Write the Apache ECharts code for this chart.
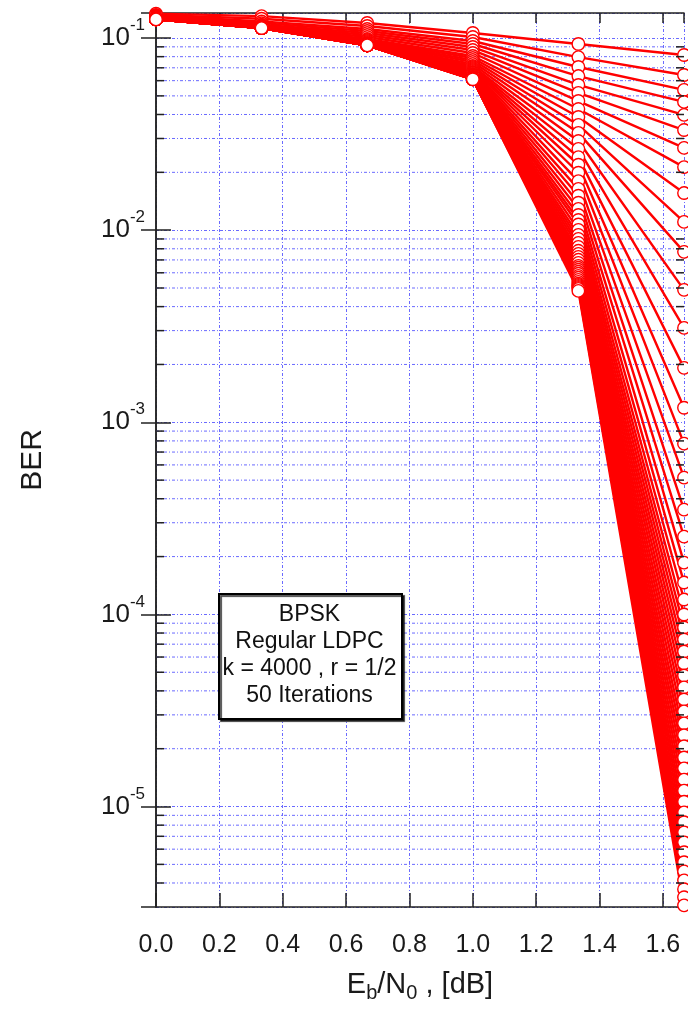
<!DOCTYPE html>
<html><head><meta charset="utf-8">
<script src="https://cdn.jsdelivr.net/npm/echarts@6/dist/echarts.min.js"></script>
<style>html,body{margin:0;padding:0;background:#fff}#c{width:688px;height:1009px}</style>
</head><body><div id="c"></div>
<script>
// Eb/N0 points [dB]
const ebn0 = [0, 0.3333, 0.6667, 1.0, 1.3333, 1.6667];
// BER per iteration (1..50) at each Eb/N0 point
const ber_0_00 = [0.134,0.132,0.131,0.130,0.129,0.128,0.1275,0.127,0.1266,0.1263,0.1261,0.1259,0.1257,0.1255,0.1254,0.1253,0.1252,0.1252,0.1251,0.1251,
  0.125,0.125,0.125,0.125,0.125,0.125,0.125,0.125,0.125,0.125,0.125,0.125,0.125,0.125,0.125,0.125,0.125,0.125,0.125,0.125,
  0.125,0.125,0.125,0.125,0.125,0.125,0.125,0.125,0.125,0.125];
const ber_0_33 = [0.130,0.126,0.122,0.1195,0.1175,0.1162,0.1152,0.1145,0.1140,0.1137,0.1134,0.1132,0.1131,0.1130,0.1129,0.1129,0.1128,0.1128,0.1128,0.1127,
  0.1127,0.1127,0.1127,0.1127,0.1127,0.1127,0.1127,0.1127,0.1127,0.1127,0.1127,0.1127,0.1127,0.1127,0.1127,0.1127,0.1127,0.1127,0.1127,0.1127,
  0.1127,0.1127,0.1127,0.1127,0.1127,0.1127,0.1127,0.1127,0.1127,0.1127];
const ber_0_67 = [0.1197,0.1155,0.1114,0.1088,0.1062,0.1037,0.1012,0.0988,0.0976,0.0965,0.0953,0.0942,0.0936,0.0931,0.0928,0.0924,0.0920,0.0919,0.0918,0.0917,
  0.0916,0.0916,0.0916,0.0916,0.0916,0.0916,0.0916,0.0916,0.0916,0.0916,0.0916,0.0916,0.0916,0.0916,0.0916,0.0916,0.0916,0.0916,0.0916,0.0916,
  0.0916,0.0916,0.0916,0.0916,0.0916,0.0916,0.0916,0.0916,0.0916,0.0916];
const ber_1_00 = [0.1062,0.1012,0.0965,0.0931,0.0898,0.0866,0.0836,0.0806,0.0787,0.0768,
  0.0750,0.0732,0.0715,0.0707,0.0698,0.0690,0.0682,0.0674,0.0667,0.0662,
  0.0656,0.0651,0.0647,0.0643,0.0640,0.0637,0.0634,0.0632,0.0630,0.0628,
  0.0625,0.0624,0.0622,0.0621,0.0619,0.0618,0.0617,0.0616,0.0615,0.0615,
  0.0614,0.0613,0.0612,0.0611,0.0611,0.0610,0.0610,0.0610,0.0610,0.0610];
const ber_1_33 = [0.0931,0.0796,0.0707,0.0634,0.0570,0.0518,0.0470,0.0427,0.0388,0.0353,
  0.0321,0.0291,0.0265,0.0240,0.0219,0.0199,0.0180,0.0164,0.0151,0.0139,
  0.0129,0.0120,0.0113,0.0107,0.01004,0.00945,0.00901,0.00859,0.00819,0.00781,
  0.00753,0.00726,0.00701,0.00676,0.00652,0.00637,0.00622,0.00607,0.00593,0.00578,
  0.00565,0.00551,0.00538,0.00526,0.00519,0.00513,0.00507,0.00501,0.00495,0.00483];
const ber_1_67 = [0.0816,0.0642,0.0537,0.0465,0.0398,0.0332,0.0268,0.0213,0.0156,0.01104,
  0.00771,0.00489,0.00310,0.00192,0.00119,0.000774,0.000515,0.000351,0.000254,0.000186,
  0.0001465,0.0001195,0.0000999,0.0000855,0.0000741,0.0000641,0.0000556,0.0000481,0.0000417,0.0000361,
  0.0000313,0.0000271,0.0000235,0.0000206,0.0000180,0.0000158,0.0000138,0.0000121,0.0000106,0.00000933,
  0.00000828,0.00000734,0.00000651,0.00000578,0.00000513,0.00000460,0.00000413,0.00000371,0.00000337,0.00000306];
const columns = [ber_0_00, ber_0_33, ber_0_67, ber_1_00, ber_1_33, ber_1_67];

const xRange = [0, 1.6667];
const yRange = [3e-6, 0.135];
const minorMantissas = [2,3,4,5,6,7,8,9];
const minorDecades = [-6,-5,-4,-3,-2];
const boxLines = ['BPSK','Regular LDPC','k = 4000 , r = 1/2','50 Iterations'];

const minorVals = [];
minorDecades.forEach(d => minorMantissas.forEach(m => {
  const v = m * Math.pow(10, d);
  if (v > yRange[0] * 1.01 && v < yRange[1]) minorVals.push([0, v]);
}));

const FONT = 'Liberation Sans, Arial, sans-serif';
const NARROW = 'Liberation Sans Narrow, Arial Narrow, Liberation Sans, sans-serif';
const GRID_COLOR = '#6a6aff';
const AX = '#222';
const TXT = '#1a1a1a';

const series = [];
// minor grid lines
series.push({
  type: 'custom', coordinateSystem: 'cartesian2d', xAxisIndex: 0, yAxisIndex: 0, z: 1, silent: true,
  encode: {x: 0, y: 1}, data: minorVals,
  renderItem: (params, api) => {
    const v = api.value(1);
    const a = api.coord([xRange[0], v]), b = api.coord([xRange[1], v]);
    return {type: 'line', shape: {x1: a[0], y1: a[1], x2: b[0], y2: b[1]},
      style: {stroke: GRID_COLOR, lineWidth: 1, lineDash: [3, 2, 1, 2]}};
  }
});
for (let i = 0; i < 50; i++) {
  series.push({
    type: 'line', name: 'iter ' + (i + 1), xAxisIndex: 0, yAxisIndex: 0, z: 2,
    clip: false, symbol: 'circle', symbolSize: 12.5, showAllSymbol: true,
    lineStyle: {color: '#ff0000', width: 2.4},
    itemStyle: {color: '#ffffff', borderColor: '#ff0000', borderWidth: 1.4},
    data: ebn0.map((x, j) => [x, columns[j][i]])
  });
}
// minor ticks (left & right)
series.push({
  type: 'custom', coordinateSystem: 'cartesian2d', xAxisIndex: 0, yAxisIndex: 0, z: 10, silent: true,
  encode: {x: 0, y: 1}, data: minorVals,
  renderItem: (params, api) => {
    const v = api.value(1);
    const a = api.coord([xRange[0], v]), b = api.coord([xRange[1], v]);
    return {type: 'group', children: [
      {type: 'line', shape: {x1: a[0], y1: a[1], x2: a[0] + 8, y2: a[1]}, style: {stroke: AX, lineWidth: 1.5}},
      {type: 'line', shape: {x1: b[0] - 8, y1: b[1], x2: b[0], y2: b[1]}, style: {stroke: AX, lineWidth: 1.5}}
    ]};
  }
});

const chart = echarts.init(document.getElementById('c'), null, {renderer: 'canvas'});
chart.setOption({
  animation: false,
  backgroundColor: '#ffffff',
  grid: {left: 156, right: 4, top: 13, bottom: 102, containLabel: false},
  xAxis: [{
    type: 'value', min: xRange[0], max: xRange[1], interval: 0.2, position: 'bottom',
    name: '{n|E}{s|b}{n|/N}{s|0}{n| , [dB]}', nameLocation: 'middle', nameGap: 63,
    nameTextStyle: {rich: {
      n: {fontSize: 29, fontFamily: FONT, color: TXT, lineHeight: 29, verticalAlign: 'top'},
      s: {fontSize: 20, fontFamily: FONT, color: TXT, lineHeight: 20, verticalAlign: 'top', padding: [13, 0, 0, 0]}
    }},
    axisLine: {show: true, lineStyle: {color: AX, width: 1.5}},
    axisTick: {show: true, inside: true, length: 14, lineStyle: {color: AX, width: 1.5}},
    axisLabel: {show: true, margin: 26, fontSize: 25, fontFamily: NARROW, color: TXT,
      showMaxLabel: false, formatter: v => v.toFixed(1)},
    splitLine: {show: true, lineStyle: {color: GRID_COLOR, width: 1, type: [3, 2, 1, 2]}}
  }, {
    type: 'value', min: xRange[0], max: xRange[1], interval: 0.2, position: 'top', gridIndex: 0,
    axisLine: {show: true, lineStyle: {color: AX, width: 1.5}},
    axisTick: {show: true, inside: true, length: 10, lineStyle: {color: AX, width: 1.5}},
    axisLabel: {show: false}, splitLine: {show: false}
  }],
  yAxis: [{
    type: 'log', logBase: 10, min: yRange[0], max: yRange[1], position: 'left',
    name: 'BER', nameLocation: 'middle', nameGap: 108,
    nameTextStyle: {fontSize: 30, fontFamily: NARROW, color: TXT},
    axisLine: {show: true, lineStyle: {color: AX, width: 1.5}},
    axisTick: {show: true, inside: true, length: 15, lineStyle: {color: AX, width: 1.5}},
    axisLabel: {show: true, margin: 11, showMinLabel: false, showMaxLabel: false,
      formatter: v => '{b|10}{e|' + Math.round(Math.log10(v)) + '}',
      rich: {
        b: {fontSize: 26, fontFamily: NARROW, color: TXT, lineHeight: 26, verticalAlign: 'bottom'},
        e: {fontSize: 17, fontFamily: NARROW, color: TXT, lineHeight: 17, verticalAlign: 'bottom', padding: [0, 0, 17, 0]}
      }},
    splitLine: {show: true, lineStyle: {color: GRID_COLOR, width: 1, type: [3, 2, 1, 2]}}
  }, {
    type: 'log', logBase: 10, min: yRange[0], max: yRange[1], position: 'right', gridIndex: 0,
    axisLine: {show: true, lineStyle: {color: AX, width: 1.5}},
    axisTick: {show: true, inside: true, length: 15, lineStyle: {color: AX, width: 1.5}},
    axisLabel: {show: false}, splitLine: {show: false}
  }],
  graphic: [{
    type: 'rect', left: 218, top: 593, z: 100,
    shape: {width: 183, height: 125},
    style: {fill: '#ffffff', stroke: '#000', lineWidth: 2, shadowColor: 'rgba(0,0,0,0.7)', shadowOffsetX: 2, shadowOffsetY: 2, shadowBlur: 1}
  }, {
    type: 'text', z: 101, x: 309.5, y: 655.5,
    style: {text: boxLines.join('\n'), fontSize: 23, fontFamily: FONT, fill: '#111', lineHeight: 27,
      align: 'center', verticalAlign: 'middle'}
  }],
  series: series
});
</script></body></html>
